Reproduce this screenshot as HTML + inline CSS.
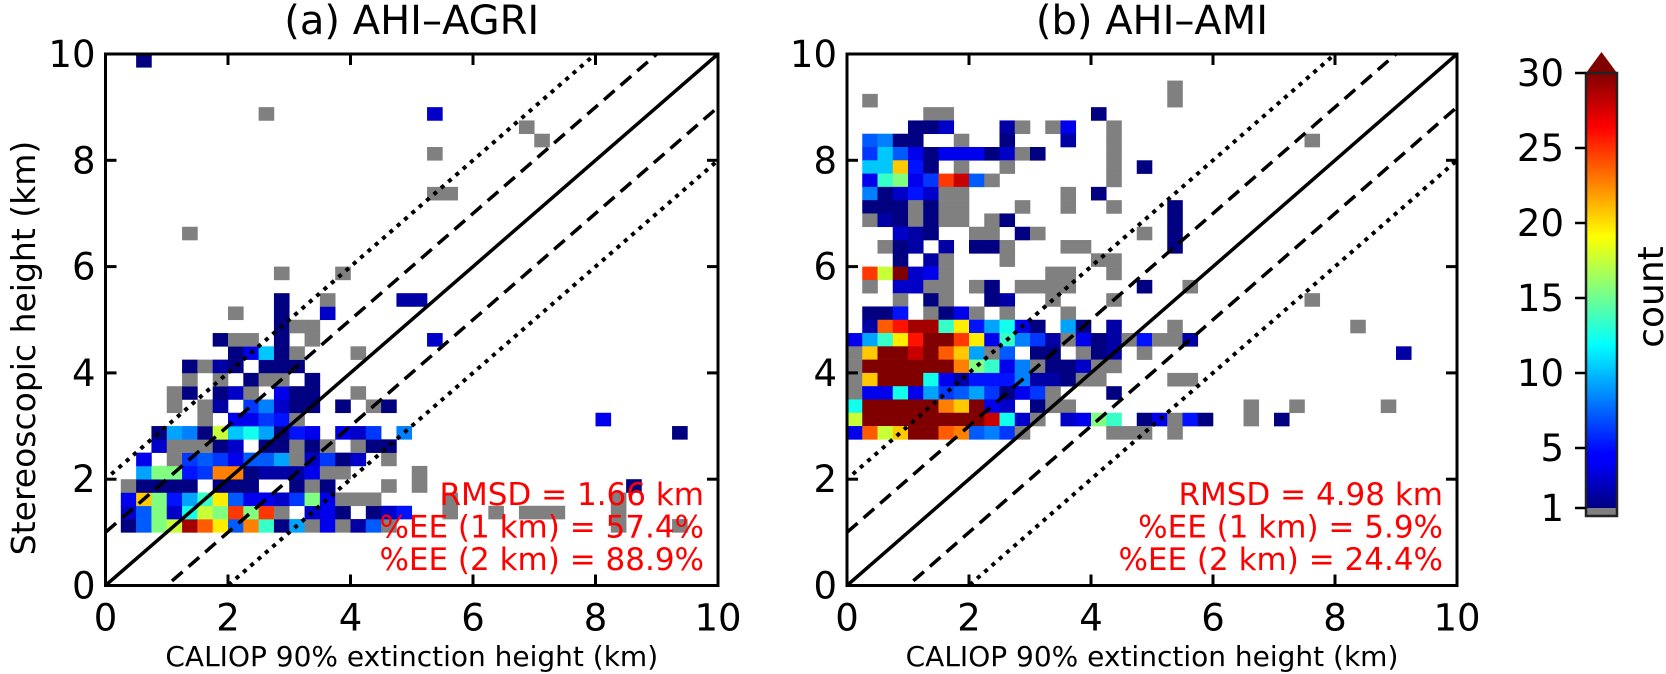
<!DOCTYPE html>
<html><head><meta charset="utf-8"><style>
html,body{margin:0;padding:0;background:#fff;}
svg{display:block;font-family:"DejaVu Sans","Liberation Sans",sans-serif;}
</style></head><body>
<svg id="fig" width="1666" height="674" viewBox="0 0 1666 674" xmlns="http://www.w3.org/2000/svg">
<defs>
<clipPath id="clipA"><rect x="105.5" y="54" width="612.5" height="531.5"/></clipPath>
<clipPath id="clipB"><rect x="847" y="54" width="610" height="531.5"/></clipPath>
<linearGradient id="jetGrad" x1="0" y1="1" x2="0" y2="0">
<stop offset="0" stop-color="#000080"/><stop offset="0.11" stop-color="#0000ff"/>
<stop offset="0.125" stop-color="#0000ff"/><stop offset="0.375" stop-color="#00ffff"/>
<stop offset="0.5" stop-color="#80ff80"/><stop offset="0.625" stop-color="#ffff00"/>
<stop offset="0.875" stop-color="#ff0000"/><stop offset="1" stop-color="#800000"/>
</linearGradient>
</defs>
<g id="panelA"></g>
<g id="panelB"></g>
<g id="cbar"></g>
</svg>
<script>
// ---- data: [column bin, row bin, count]; bins are 0.25 km ----
const binKm = 0.25;
const xTicks = [0, 2, 4, 6, 8, 10];
const yTicks = [0, 2, 4, 6, 8, 10];
const cbarTicks = [1, 5, 10, 15, 20, 25, 30];
const agriCells = [
[1,4,2],[2,4,8],[3,4,16],[4,4,18],[5,4,29],[6,4,24],[7,4,20],[8,4,8],[9,4,23],[10,4,14],[11,4,2],[12,4,10],[13,4,1],[14,4,5],[15,4,1],[16,4,3],[17,4,8],[18,4,1],[37,4,1],[33,4,1],
[1,5,4],[2,5,8],[3,5,16],[4,5,4],[5,5,13],[6,5,18],[7,5,16],[8,5,25],[9,5,16],[10,5,25],[11,5,1],[13,5,4],[14,5,5],[15,5,2],[17,5,2],[18,5,4],[19,5,6],[22,5,1],[25,5,1],[27,5,1],[28,5,1],[29,5,1],[33,5,1],
[1,6,5],[2,6,21],[3,6,16],[4,6,6],[5,6,10],[6,6,14],[7,6,20],[8,6,8],[9,6,5],[10,6,5],[11,6,4],[12,6,7],[13,6,16],[14,6,5],[15,6,1],[16,6,1],[17,6,1],[22,6,1],[33,6,1],
[1,7,1],[2,7,2],[3,7,2],[4,7,2],[5,7,2],[7,7,2],[8,7,2],[9,7,2],[12,7,2],[13,7,1],[14,7,2],[18,7,1],[20,7,1],[34,7,2],
[2,8,10],[3,8,16],[4,8,16],[5,8,6],[6,8,7],[7,8,23],[8,8,23],[9,8,2],[10,8,3],[11,8,3],[12,8,3],[13,8,5],[14,8,1],[15,8,1],[20,8,1],
[2,9,5],[4,9,1],[5,9,7],[6,9,8],[7,9,7],[8,9,5],[9,9,8],[10,9,8],[11,9,10],[12,9,1],[13,9,4],[14,9,7],[15,9,2],[16,9,4],[18,9,1],
[3,10,4],[4,10,1],[5,10,1],[6,10,1],[7,10,2],[8,10,4],[10,10,2],[11,10,2],[12,10,1],[13,10,2],[14,10,1],[16,10,1],[17,10,2],[18,10,2],
[3,11,2],[4,11,10],[5,11,9],[6,11,2],[7,11,18],[8,11,11],[9,11,13],[10,11,10],[11,11,2],[12,11,6],[13,11,5],[15,11,5],[16,11,4],[17,11,7],[19,11,9],[37,11,2],
[6,12,1],[8,12,5],[9,12,5],[10,12,7],[11,12,6],[12,12,1],[32,12,5],
[4,13,1],[6,13,1],[7,13,3],[9,13,7],[10,13,9],[11,13,4],[12,13,2],[13,13,2],[15,13,2],[17,13,1],[18,13,2],
[4,14,1],[5,14,2],[7,14,2],[8,14,4],[9,14,1],[11,14,5],[12,14,2],[13,14,2],[16,14,1],
[5,15,1],[7,15,1],[9,15,2],[10,15,1],[11,15,1],[13,15,2],
[5,16,2],[6,16,1],[7,16,3],[8,16,2],[10,16,2],[11,16,2],[12,16,2],
[8,17,2],[9,17,5],[10,17,11],[11,17,2],[12,17,1],[16,17,1],
[7,18,2],[8,18,1],[9,18,1],[11,18,2],[13,18,1],[21,18,4],
[11,19,2],[12,19,1],[13,19,1],
[8,20,1],[11,20,2],[14,20,4],
[11,21,2],[14,21,1],[19,21,3],[20,21,3],
[11,23,1],[15,23,1],[5,26,1],[21,29,1],[22,29,1],[21,32,1],[28,33,1],[27,34,1],[10,35,1],[21,35,4],[2,39,2]
];
const amiCells = [
[1,36,1],[21,36,1],[21,37,1],
[5,35,1],[6,35,1],[16,35,2],
[4,34,2],[5,34,2],[6,34,4],[10,34,3],[11,34,1],[13,34,1],[14,34,5],[17,34,1],
[1,33,8],[2,33,9],[3,33,2],[4,33,2],[7,33,1],[10,33,2],[14,33,3],[17,33,1],[30,33,1],
[1,32,7],[2,32,11],[3,32,8],[4,32,5],[5,32,2],[6,32,5],[7,32,5],[8,32,5],[9,32,2],[10,32,4],[11,32,1],[12,32,2],[17,32,1],
[1,31,11],[2,31,11],[3,31,21],[4,31,6],[5,31,2],[7,31,1],[10,31,1],[17,31,1],[19,31,2],
[1,30,5],[2,30,14],[3,30,16],[4,30,5],[5,30,7],[6,30,25],[7,30,28],[8,30,8],[9,30,1],[17,30,1],
[1,29,9],[2,29,2],[3,29,4],[4,29,6],[5,29,4],[6,29,1],[7,29,1],[14,29,1],[16,29,2],
[1,28,2],[2,28,2],[3,28,2],[4,28,1],[5,28,2],[6,28,1],[7,28,1],[11,28,1],[14,28,1],[17,28,1],[21,28,2],
[1,27,1],[2,27,3],[3,27,2],[4,27,1],[5,27,2],[6,27,1],[7,27,1],[9,27,1],[10,27,2],[21,27,2],
[3,26,4],[4,26,3],[5,26,2],[8,26,1],[9,26,1],[11,26,2],[12,26,1],[19,26,1],[21,26,2],
[2,25,1],[3,25,2],[4,25,3],[6,25,3],[8,25,2],[9,25,2],[10,25,1],[14,25,1],[15,25,1],[21,25,2],
[3,24,2],[5,24,3],[6,24,1],[10,24,1],[16,24,1],[17,24,1],
[1,23,25],[2,23,18],[3,23,31],[4,23,4],[5,23,5],[6,23,1],[13,23,1],[14,23,1],[17,23,1],
[1,22,1],[3,22,4],[4,22,4],[5,22,1],[6,22,1],[8,22,1],[9,22,2],[11,22,1],[12,22,1],[13,22,1],[14,22,1],[19,22,2],[22,22,1],
[3,21,1],[5,21,2],[6,21,1],[9,21,2],[10,21,3],[13,21,1],[17,21,1],[30,21,1],
[1,20,2],[2,20,2],[3,20,6],[5,20,1],[6,20,2],[7,20,5],[8,20,1],[10,20,1],[14,20,1],
[1,19,3],[2,19,24],[3,19,26],[4,19,29],[5,19,29],[6,19,14],[7,19,20],[8,19,6],[9,19,10],[10,19,13],[11,19,5],[12,19,2],[14,19,10],[15,19,2],[17,19,3],[21,19,1],[33,19,1],
[0,18,5],[1,18,10],[2,18,14],[3,18,20],[4,18,26],[5,18,31],[6,18,31],[7,18,25],[8,18,20],[9,18,5],[10,18,14],[11,18,9],[12,18,7],[13,18,3],[14,18,1],[15,18,5],[16,18,2],[17,18,3],[18,18,1],[19,18,6],[20,18,1],[21,18,1],[22,18,3],
[0,17,1],[1,17,21],[2,17,31],[3,17,31],[4,17,28],[5,17,31],[6,17,24],[7,17,21],[8,17,10],[9,17,1],[10,17,8],[12,17,2],[13,17,2],[15,17,1],[16,17,2],[17,17,3],[19,17,1],[36,17,3],
[0,16,1],[1,16,31],[2,16,31],[3,16,31],[4,16,31],[5,16,31],[6,16,31],[7,16,23],[8,16,16],[9,16,14],[10,16,5],[11,16,9],[12,16,1],[13,16,2],[14,16,2],[15,16,4],[16,16,1],[17,16,1],
[0,15,1],[1,15,21],[2,15,31],[3,15,31],[4,15,31],[5,15,13],[6,15,5],[7,15,3],[8,15,6],[9,15,6],[10,15,6],[11,15,9],[12,15,3],[13,15,3],[14,15,2],[15,15,1],[16,15,1],[21,15,1],[22,15,1],
[0,14,1],[1,14,5],[2,14,5],[3,14,13],[4,14,5],[5,14,10],[6,14,7],[7,14,8],[8,14,10],[9,14,7],[10,14,2],[11,14,5],[12,14,7],[13,14,1],[17,14,2],
[0,13,13],[1,13,31],[2,13,31],[3,13,31],[4,13,31],[5,13,31],[6,13,23],[7,13,21],[8,13,31],[9,13,5],[10,13,4],[12,13,2],[13,13,1],[14,13,1],[26,13,1],[29,13,1],[35,13,1],
[0,12,18],[1,12,31],[2,12,31],[3,12,31],[4,12,31],[5,12,31],[6,12,31],[7,12,31],[8,12,31],[9,12,28],[10,12,13],[11,12,4],[12,12,1],[14,12,4],[15,12,5],[16,12,16],[17,12,14],[19,12,2],[20,12,5],[21,12,1],[22,12,6],[23,12,2],[26,12,1],[28,12,2],
[0,11,5],[1,11,24],[2,11,18],[3,11,21],[4,11,31],[5,11,31],[6,11,24],[7,11,23],[8,11,8],[9,11,9],[10,11,7],[11,11,1],[17,11,1],[18,11,1],[19,11,1],[21,11,1]
];
const agriStats = ["RMSD = 1.66 km", "%EE (1 km) = 57.4%", "%EE (2 km) = 88.9%"];
const amiStats = ["RMSD = 4.98 km", "%EE (1 km) = 5.9%", "%EE (2 km) = 24.4%"];

const NS = "http://www.w3.org/2000/svg";
function mk(tag, attrs, parent){ const e=document.createElementNS(NS,tag); for(const k in attrs) e.setAttribute(k,attrs[k]); parent.appendChild(e); return e; }
function clamp(v){ return Math.max(0, Math.min(1, v)); }
function jet(t){
  const r=clamp(Math.min(4*t-1.5,-4*t+4.5)), g=clamp(Math.min(4*t-0.5,-4*t+3.5)), b=clamp(Math.min(4*t+0.5,-4*t+2.5));
  return "rgb("+Math.round(r*255)+","+Math.round(g*255)+","+Math.round(b*255)+")";
}
function countColor(v){ if(v<=1) return "#808080"; return jet(clamp((Math.min(v,30)-2)/28)); }

function drawPanel(g, x0, x1, y0, y1, clipId, cells, title, stats, showYLabel, key){
  const xs = km => x0 + (x1-x0)*km/10;
  const ys = km => y0 - (y0-y1)*km/10;
  const cg = mk("g", {"clip-path":"url(#"+clipId+")"}, g);
  
  
  cells.forEach(c => {
    const xa = xs(c[0]*binKm), xb = xs((c[0]+1)*binKm), ya = ys((c[1]+1)*binKm), yb = ys(c[1]*binKm);
    const r = mk("rect", {x:xa, y:ya, width:xb-xa+0.3, height:yb-ya+0.3, fill:countColor(c[2])}, cg);
    
    
  });
  const offs = [[0,"solid"],[1,"dash"],[-1,"dash"],[2,"dot"],[-2,"dot"]];
  offs.forEach(o => {
    const ln = mk("line", {x1:xs(0), y1:ys(o[0]), x2:xs(10), y2:ys(10+o[0]), stroke:"#000", "stroke-width":3.5}, cg);
    if(o[1]==="dash") ln.setAttribute("stroke-dasharray","14 8");
    if(o[1]==="dot"){ ln.setAttribute("stroke-dasharray","0.1 9.6"); ln.setAttribute("stroke-linecap","square"); ln.setAttribute("stroke-width","4"); }
    
    
  });
  const fr = mk("rect", {x:x0, y:y1, width:x1-x0, height:y0-y1, fill:"none", stroke:"#000", "stroke-width":3}, g);
  
  
  xTicks.forEach(t => {
    const x = xs(t);
    mk("line", {x1:x, y1:y0, x2:x, y2:y0-11, stroke:"#000","stroke-width":3}, g);
    mk("line", {x1:x, y1:y1, x2:x, y2:y1+11, stroke:"#000","stroke-width":3}, g);
    const tx = mk("text", {x:x, y:y0+45, "font-size":37, "text-anchor":"middle", fill:"#000"}, g);
    tx.textContent = t;
    
    
  });
  yTicks.forEach(t => {
    const y = ys(t);
    mk("line", {x1:x0, y1:y, x2:x0+11, y2:y, stroke:"#000","stroke-width":3}, g);
    mk("line", {x1:x1, y1:y, x2:x1-11, y2:y, stroke:"#000","stroke-width":3}, g);
    const ty = mk("text", {x:x0-10, y:y+13, "font-size":37, "text-anchor":"end", fill:"#000"}, g);
    ty.textContent = t;
    
    
  });
  const tt = mk("text", {x:(x0+x1)/2, y:34, "font-size":40, "text-anchor":"middle", fill:"#000"}, g);
  tt.textContent = title;
  
  
  const xl = mk("text", {x:(x0+x1)/2, y:666, "font-size":28, "text-anchor":"middle", fill:"#000"}, g);
  xl.textContent = "CALIOP 90% extinction height (km)";
  
  
  if(showYLabel){
    const yl = mk("text", {x:0, y:0, "font-size":33, "text-anchor":"middle", fill:"#000", transform:"translate(35,348) rotate(-90)"}, g);
    yl.textContent = "Stereoscopic height (km)";
    
    
  }
  stats.forEach((s,i) => {
    const st = mk("text", {x:x1-14, y:505+i*32.5, "font-size":31, "text-anchor":"end", fill:"#ff0000"}, g);
    st.textContent = s;
    
    
  });
}
drawPanel(document.getElementById("panelA"), 105.5, 718, 585.5, 54, "clipA", agriCells, "(a) AHI\u2013AGRI", agriStats, true, "agri");
drawPanel(document.getElementById("panelB"), 847, 1457, 585.5, 54, "clipB", amiCells, "(b) AHI\u2013AMI", amiStats, false, "ami");

// colorbar
const cb = document.getElementById("cbar");
const cbX = 1586, cbW = 31, cbTop = 73, cbBot = 508;
const cv = v => cbBot - (v-1)*(cbBot-cbTop)/29;
mk("rect", {x:cbX, y:cbTop, width:cbW, height:cbBot-cbTop, fill:"url(#jetGrad)"}, cb);
mk("rect", {x:cbX, y:cbBot, width:cbW, height:8, fill:"#808080"}, cb);
mk("polygon", {points:(cbX)+","+cbTop+" "+(cbX+cbW)+","+cbTop+" "+(cbX+cbW/2)+",52", fill:"#800000"}, cb);
mk("rect", {x:cbX, y:cbTop, width:cbW, height:cbBot+8-cbTop, fill:"none", stroke:"#222", "stroke-width":2.5}, cb);
cbarTicks.forEach(t => {
  const y = cv(t);
  mk("line", {x1:cbX-11, y1:y, x2:cbX, y2:y, stroke:"#000", "stroke-width":2.5}, cb);
  const l = mk("text", {x:cbX-22, y:y+13, "font-size":37, "text-anchor":"end", fill:"#000"}, cb);
  l.textContent = t;
  
  
});
const cl = mk("text", {x:0, y:0, "font-size":36, "text-anchor":"middle", fill:"#000", transform:"translate(1663,297) rotate(-90)"}, cb);
cl.textContent = "count";


</script>
</body></html>
